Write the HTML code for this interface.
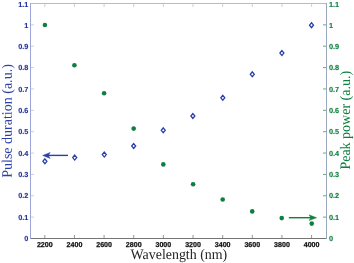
<!DOCTYPE html><html><head><meta charset="utf-8"><title>chart</title><style>html,body{margin:0;padding:0;background:#fff}svg{display:block}.t{font-family:"Liberation Sans",sans-serif;font-size:7.1px;font-weight:bold;stroke-width:0.25px;text-rendering:geometricPrecision}.s{font-family:"Liberation Serif",serif;font-size:14.5px;text-rendering:geometricPrecision}</style></head><body>
<svg width="354" height="263" viewBox="0 0 354 263">
<rect width="354" height="263" fill="#fff"/>
<line x1="30" y1="3.5" x2="327" y2="3.5" stroke="#bcbcbc" stroke-width="1"/>
<line x1="30" y1="238.5" x2="327" y2="238.5" stroke="#747474" stroke-width="1"/>
<line x1="30.5" y1="3" x2="30.5" y2="239" stroke="#9ca4d8" stroke-width="1"/>
<line x1="326.5" y1="3" x2="326.5" y2="239" stroke="#9aa8bc" stroke-width="1"/>
<line x1="44.80" y1="238" x2="44.80" y2="235" stroke="#7a7a7a" stroke-width="0.8"/>
<line x1="44.80" y1="4" x2="44.80" y2="7" stroke="#c4c4c4" stroke-width="0.8"/>
<text class="t" x="44.80" y="246.75" text-anchor="middle" fill="#111" stroke="#111">2200</text>
<line x1="74.44" y1="238" x2="74.44" y2="235" stroke="#7a7a7a" stroke-width="0.8"/>
<line x1="74.44" y1="4" x2="74.44" y2="7" stroke="#c4c4c4" stroke-width="0.8"/>
<text class="t" x="74.44" y="246.75" text-anchor="middle" fill="#111" stroke="#111">2400</text>
<line x1="104.09" y1="238" x2="104.09" y2="235" stroke="#7a7a7a" stroke-width="0.8"/>
<line x1="104.09" y1="4" x2="104.09" y2="7" stroke="#c4c4c4" stroke-width="0.8"/>
<text class="t" x="104.09" y="246.75" text-anchor="middle" fill="#111" stroke="#111">2600</text>
<line x1="133.73" y1="238" x2="133.73" y2="235" stroke="#7a7a7a" stroke-width="0.8"/>
<line x1="133.73" y1="4" x2="133.73" y2="7" stroke="#c4c4c4" stroke-width="0.8"/>
<text class="t" x="133.73" y="246.75" text-anchor="middle" fill="#111" stroke="#111">2800</text>
<line x1="163.38" y1="238" x2="163.38" y2="235" stroke="#7a7a7a" stroke-width="0.8"/>
<line x1="163.38" y1="4" x2="163.38" y2="7" stroke="#c4c4c4" stroke-width="0.8"/>
<text class="t" x="163.38" y="246.75" text-anchor="middle" fill="#111" stroke="#111">3000</text>
<line x1="193.02" y1="238" x2="193.02" y2="235" stroke="#7a7a7a" stroke-width="0.8"/>
<line x1="193.02" y1="4" x2="193.02" y2="7" stroke="#c4c4c4" stroke-width="0.8"/>
<text class="t" x="193.02" y="246.75" text-anchor="middle" fill="#111" stroke="#111">3200</text>
<line x1="222.66" y1="238" x2="222.66" y2="235" stroke="#7a7a7a" stroke-width="0.8"/>
<line x1="222.66" y1="4" x2="222.66" y2="7" stroke="#c4c4c4" stroke-width="0.8"/>
<text class="t" x="222.66" y="246.75" text-anchor="middle" fill="#111" stroke="#111">3400</text>
<line x1="252.31" y1="238" x2="252.31" y2="235" stroke="#7a7a7a" stroke-width="0.8"/>
<line x1="252.31" y1="4" x2="252.31" y2="7" stroke="#c4c4c4" stroke-width="0.8"/>
<text class="t" x="252.31" y="246.75" text-anchor="middle" fill="#111" stroke="#111">3600</text>
<line x1="281.95" y1="238" x2="281.95" y2="235" stroke="#7a7a7a" stroke-width="0.8"/>
<line x1="281.95" y1="4" x2="281.95" y2="7" stroke="#c4c4c4" stroke-width="0.8"/>
<text class="t" x="281.95" y="246.75" text-anchor="middle" fill="#111" stroke="#111">3800</text>
<line x1="311.60" y1="238" x2="311.60" y2="235" stroke="#7a7a7a" stroke-width="0.8"/>
<line x1="311.60" y1="4" x2="311.60" y2="7" stroke="#c4c4c4" stroke-width="0.8"/>
<text class="t" x="311.60" y="246.75" text-anchor="middle" fill="#111" stroke="#111">4000</text>
<text class="t" x="28.3" y="241.05" text-anchor="end" fill="#22339c" stroke="#22339c" style="font-size:7.3px;stroke-width:0.12px">0</text>
<text class="t" x="328.9" y="241.05" text-anchor="start" fill="#0c803e" stroke="#0c803e" style="font-size:7.3px;stroke-width:0.12px">0</text>
<line x1="31" y1="217.14" x2="34" y2="217.14" stroke="#b5bbe0" stroke-width="0.7"/>
<line x1="326" y1="217.14" x2="323" y2="217.14" stroke="#4f8a68" stroke-width="0.8"/>
<text class="t" x="28.3" y="219.69" text-anchor="end" fill="#22339c" stroke="#22339c" style="font-size:7.3px;stroke-width:0.12px">0.1</text>
<text class="t" x="328.9" y="219.69" text-anchor="start" fill="#0c803e" stroke="#0c803e" style="font-size:7.3px;stroke-width:0.12px">0.1</text>
<line x1="31" y1="195.77" x2="34" y2="195.77" stroke="#b5bbe0" stroke-width="0.7"/>
<line x1="326" y1="195.77" x2="323" y2="195.77" stroke="#4f8a68" stroke-width="0.8"/>
<text class="t" x="28.3" y="198.32" text-anchor="end" fill="#22339c" stroke="#22339c" style="font-size:7.3px;stroke-width:0.12px">0.2</text>
<text class="t" x="328.9" y="198.32" text-anchor="start" fill="#0c803e" stroke="#0c803e" style="font-size:7.3px;stroke-width:0.12px">0.2</text>
<line x1="31" y1="174.41" x2="34" y2="174.41" stroke="#b5bbe0" stroke-width="0.7"/>
<line x1="326" y1="174.41" x2="323" y2="174.41" stroke="#4f8a68" stroke-width="0.8"/>
<text class="t" x="28.3" y="176.96" text-anchor="end" fill="#22339c" stroke="#22339c" style="font-size:7.3px;stroke-width:0.12px">0.3</text>
<text class="t" x="328.9" y="176.96" text-anchor="start" fill="#0c803e" stroke="#0c803e" style="font-size:7.3px;stroke-width:0.12px">0.3</text>
<line x1="31" y1="153.05" x2="34" y2="153.05" stroke="#b5bbe0" stroke-width="0.7"/>
<line x1="326" y1="153.05" x2="323" y2="153.05" stroke="#4f8a68" stroke-width="0.8"/>
<text class="t" x="28.3" y="155.60" text-anchor="end" fill="#22339c" stroke="#22339c" style="font-size:7.3px;stroke-width:0.12px">0.4</text>
<text class="t" x="328.9" y="155.60" text-anchor="start" fill="#0c803e" stroke="#0c803e" style="font-size:7.3px;stroke-width:0.12px">0.4</text>
<line x1="31" y1="131.68" x2="34" y2="131.68" stroke="#b5bbe0" stroke-width="0.7"/>
<line x1="326" y1="131.68" x2="323" y2="131.68" stroke="#4f8a68" stroke-width="0.8"/>
<text class="t" x="28.3" y="134.23" text-anchor="end" fill="#22339c" stroke="#22339c" style="font-size:7.3px;stroke-width:0.12px">0.5</text>
<text class="t" x="328.9" y="134.23" text-anchor="start" fill="#0c803e" stroke="#0c803e" style="font-size:7.3px;stroke-width:0.12px">0.5</text>
<line x1="31" y1="110.32" x2="34" y2="110.32" stroke="#b5bbe0" stroke-width="0.7"/>
<line x1="326" y1="110.32" x2="323" y2="110.32" stroke="#4f8a68" stroke-width="0.8"/>
<text class="t" x="28.3" y="112.87" text-anchor="end" fill="#22339c" stroke="#22339c" style="font-size:7.3px;stroke-width:0.12px">0.6</text>
<text class="t" x="328.9" y="112.87" text-anchor="start" fill="#0c803e" stroke="#0c803e" style="font-size:7.3px;stroke-width:0.12px">0.6</text>
<line x1="31" y1="88.95" x2="34" y2="88.95" stroke="#b5bbe0" stroke-width="0.7"/>
<line x1="326" y1="88.95" x2="323" y2="88.95" stroke="#4f8a68" stroke-width="0.8"/>
<text class="t" x="28.3" y="91.50" text-anchor="end" fill="#22339c" stroke="#22339c" style="font-size:7.3px;stroke-width:0.12px">0.7</text>
<text class="t" x="328.9" y="91.50" text-anchor="start" fill="#0c803e" stroke="#0c803e" style="font-size:7.3px;stroke-width:0.12px">0.7</text>
<line x1="31" y1="67.59" x2="34" y2="67.59" stroke="#b5bbe0" stroke-width="0.7"/>
<line x1="326" y1="67.59" x2="323" y2="67.59" stroke="#4f8a68" stroke-width="0.8"/>
<text class="t" x="28.3" y="70.14" text-anchor="end" fill="#22339c" stroke="#22339c" style="font-size:7.3px;stroke-width:0.12px">0.8</text>
<text class="t" x="328.9" y="70.14" text-anchor="start" fill="#0c803e" stroke="#0c803e" style="font-size:7.3px;stroke-width:0.12px">0.8</text>
<line x1="31" y1="46.23" x2="34" y2="46.23" stroke="#b5bbe0" stroke-width="0.7"/>
<line x1="326" y1="46.23" x2="323" y2="46.23" stroke="#4f8a68" stroke-width="0.8"/>
<text class="t" x="28.3" y="48.78" text-anchor="end" fill="#22339c" stroke="#22339c" style="font-size:7.3px;stroke-width:0.12px">0.9</text>
<text class="t" x="328.9" y="48.78" text-anchor="start" fill="#0c803e" stroke="#0c803e" style="font-size:7.3px;stroke-width:0.12px">0.9</text>
<line x1="31" y1="24.86" x2="34" y2="24.86" stroke="#b5bbe0" stroke-width="0.7"/>
<line x1="326" y1="24.86" x2="323" y2="24.86" stroke="#4f8a68" stroke-width="0.8"/>
<text class="t" x="28.3" y="27.80" text-anchor="end" fill="#22339c" stroke="#22339c" style="font-size:7.3px;stroke-width:0.12px">1</text>
<text class="t" x="328.9" y="27.80" text-anchor="start" fill="#0c803e" stroke="#0c803e" style="font-size:7.3px;stroke-width:0.12px">1</text>
<text class="t" x="28.3" y="7.00" text-anchor="end" fill="#22339c" stroke="#22339c" style="font-size:7.3px;stroke-width:0.12px">1.1</text>
<text class="t" x="328.9" y="7.00" text-anchor="start" fill="#0c803e" stroke="#0c803e" style="font-size:7.3px;stroke-width:0.12px">1.1</text>
<text class="s" x="178.9" y="259.2" text-anchor="middle" fill="#222" textLength="96.6" lengthAdjust="spacingAndGlyphs">Wavelength (nm)</text>
<text class="s" transform="translate(11.8 121.0) rotate(-89.97)" text-anchor="middle" fill="#2a3fa8" textLength="113.6" lengthAdjust="spacingAndGlyphs">Pulse duration (a.u.)</text>
<text class="s" transform="translate(350.05 120.25) rotate(-89.97)" text-anchor="middle" fill="#0c803e" textLength="98.7" lengthAdjust="spacingAndGlyphs">Peak power (a.u.)</text>
<circle cx="44.9" cy="25.0" r="2.3" fill="#0c803e"/>
<circle cx="74.4" cy="65.3" r="2.3" fill="#0c803e"/>
<circle cx="104.1" cy="93.2" r="2.3" fill="#0c803e"/>
<circle cx="133.7" cy="128.6" r="2.3" fill="#0c803e"/>
<circle cx="163.3" cy="164.4" r="2.3" fill="#0c803e"/>
<circle cx="193.1" cy="184.3" r="2.3" fill="#0c803e"/>
<circle cx="222.7" cy="199.5" r="2.3" fill="#0c803e"/>
<circle cx="252.2" cy="211.4" r="2.3" fill="#0c803e"/>
<circle cx="281.75" cy="218.1" r="2.3" fill="#0c803e"/>
<circle cx="311.75" cy="223.6" r="2.3" fill="#0c803e"/>
<path d="M44.9 158.85L46.90 161.3L44.9 163.75L42.90 161.3Z" fill="#fff" stroke="#2a3fa8" stroke-width="1.3" stroke-linejoin="miter"/>
<path d="M74.7 155.15L76.70 157.6L74.7 160.05L72.70 157.6Z" fill="#fff" stroke="#2a3fa8" stroke-width="1.3" stroke-linejoin="miter"/>
<path d="M104.3 152.15L106.30 154.6L104.3 157.05L102.30 154.6Z" fill="#fff" stroke="#2a3fa8" stroke-width="1.3" stroke-linejoin="miter"/>
<path d="M133.7 143.55L135.70 146.0L133.7 148.45L131.70 146.0Z" fill="#fff" stroke="#2a3fa8" stroke-width="1.3" stroke-linejoin="miter"/>
<path d="M163.25 127.85L165.25 130.3L163.25 132.75L161.25 130.3Z" fill="#fff" stroke="#2a3fa8" stroke-width="1.3" stroke-linejoin="miter"/>
<path d="M192.9 113.55L194.90 116.0L192.9 118.45L190.90 116.0Z" fill="#fff" stroke="#2a3fa8" stroke-width="1.3" stroke-linejoin="miter"/>
<path d="M222.8 95.35L224.80 97.8L222.8 100.25L220.80 97.8Z" fill="#fff" stroke="#2a3fa8" stroke-width="1.3" stroke-linejoin="miter"/>
<path d="M252.3 71.85L254.30 74.3L252.3 76.75L250.30 74.3Z" fill="#fff" stroke="#2a3fa8" stroke-width="1.3" stroke-linejoin="miter"/>
<path d="M281.9 50.65L283.90 53.1L281.9 55.55L279.90 53.1Z" fill="#fff" stroke="#2a3fa8" stroke-width="1.3" stroke-linejoin="miter"/>
<path d="M311.5 22.75L313.50 25.2L311.5 27.65L309.50 25.2Z" fill="#fff" stroke="#2a3fa8" stroke-width="1.3" stroke-linejoin="miter"/>
<line x1="68" y1="155.4" x2="47" y2="155.4" stroke="#2a3fa8" stroke-width="1.4"/>
<path d="M42.6 155.4L50.2 152.4L48.4 155.4L50.2 158.4Z" fill="#2a3fa8" stroke="#2a3fa8" stroke-width="0.4" stroke-linejoin="miter"/>
<line x1="288.8" y1="217.7" x2="312" y2="217.7" stroke="#0c803e" stroke-width="1.4"/>
<path d="M316.7 217.7L309 214.8L310.8 217.7L309 220.6Z" fill="#0c803e" stroke="#0c803e" stroke-width="0.4" stroke-linejoin="miter"/>
</svg></body></html>
